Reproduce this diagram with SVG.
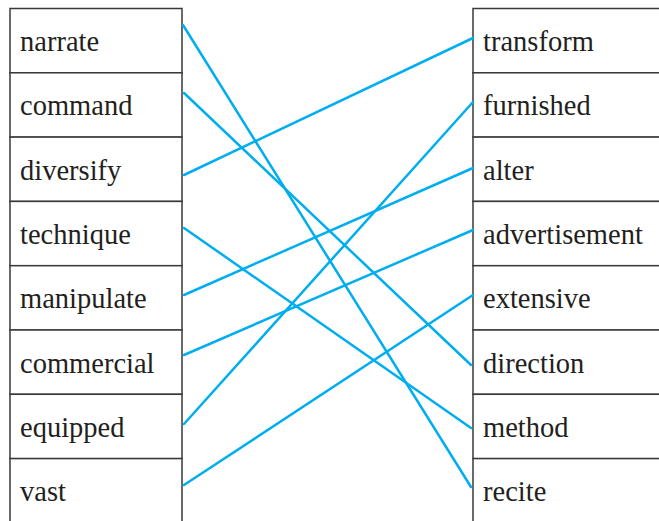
<svg xmlns="http://www.w3.org/2000/svg" width="659" height="521" viewBox="0 0 659 521">
<style>
.box{fill:#fff;stroke:#3a3a3a;stroke-width:1.5}
.t{font-family:"Liberation Serif","Times New Roman",serif;font-size:28.5px;fill:#231f20}
.c{stroke:#00aeef;stroke-width:2.5;fill:none;stroke-linecap:round}
</style>
<rect width="659" height="521" fill="#fff"/>
<g id="left">
<g id="l1"><rect class="box" x="10" y="8.5" width="172" height="64.3"/><text class="t" x="20" y="51">narrate</text></g>
<g id="l2"><rect class="box" x="10" y="72.8" width="172" height="64.3"/><text class="t" x="20" y="115.3">command</text></g>
<g id="l3"><rect class="box" x="10" y="137.1" width="172" height="64.3"/><text class="t" x="20" y="179.6">diversify</text></g>
<g id="l4"><rect class="box" x="10" y="201.4" width="172" height="64.3"/><text class="t" x="20" y="243.9">technique</text></g>
<g id="l5"><rect class="box" x="10" y="265.7" width="172" height="64.3"/><text class="t" x="20" y="308.2">manipulate</text></g>
<g id="l6"><rect class="box" x="10" y="330" width="172" height="64.3"/><text class="t" x="20" y="372.5">commercial</text></g>
<g id="l7"><rect class="box" x="10" y="394.3" width="172" height="64.3"/><text class="t" x="20" y="436.8">equipped</text></g>
<g id="l8"><rect class="box" x="10" y="458.6" width="172" height="64.3"/><text class="t" x="20" y="501.1">vast</text></g>
</g>
<g id="right">
<g id="r1"><rect class="box" x="473" y="8.5" width="200" height="64.3"/><text class="t" x="483" y="51">transform</text></g>
<g id="r2"><rect class="box" x="473" y="72.8" width="200" height="64.3"/><text class="t" x="483" y="115.3">furnished</text></g>
<g id="r3"><rect class="box" x="473" y="137.1" width="200" height="64.3"/><text class="t" x="483" y="179.6">alter</text></g>
<g id="r4"><rect class="box" x="473" y="201.4" width="200" height="64.3"/><text class="t" x="483" y="243.9">advertisement</text></g>
<g id="r5"><rect class="box" x="473" y="265.7" width="200" height="64.3"/><text class="t" x="483" y="308.2">extensive</text></g>
<g id="r6"><rect class="box" x="473" y="330" width="200" height="64.3"/><text class="t" x="483" y="372.5">direction</text></g>
<g id="r7"><rect class="box" x="473" y="394.3" width="200" height="64.3"/><text class="t" x="483" y="436.8">method</text></g>
<g id="r8"><rect class="box" x="473" y="458.6" width="200" height="64.3"/><text class="t" x="483" y="501.1">recite</text></g>
</g>
<g id="connectors">
<line class="c" x1="183" y1="25" x2="471" y2="487"/>
<line class="c" x1="184" y1="93" x2="471" y2="365"/>
<line class="c" x1="184" y1="175" x2="473" y2="38"/>
<line class="c" x1="184" y1="228" x2="471" y2="428"/>
<line class="c" x1="184" y1="295" x2="473" y2="168"/>
<line class="c" x1="184" y1="355" x2="473" y2="230"/>
<line class="c" x1="184" y1="424" x2="473" y2="102"/>
<line class="c" x1="184" y1="485" x2="473" y2="295"/>
</g>
</svg>
